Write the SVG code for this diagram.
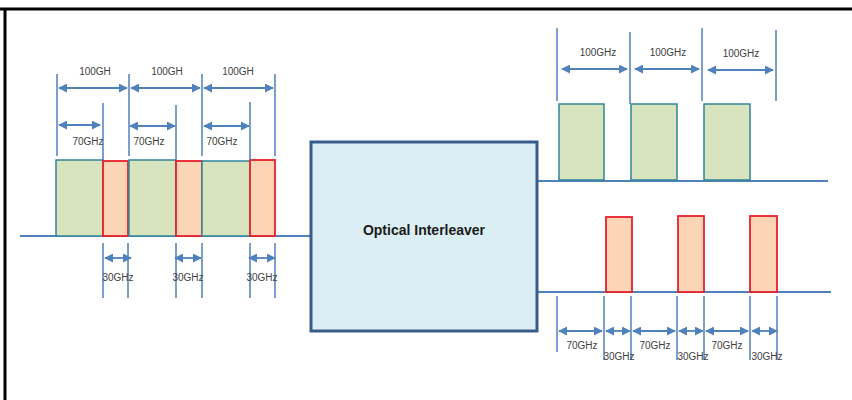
<svg xmlns="http://www.w3.org/2000/svg" width="852" height="400" viewBox="0 0 852 400">
<style>
.frame{stroke:#000;stroke-width:3;fill:none}
.base{stroke:#4F81BD;stroke-width:2;fill:none}
.dim{stroke:#4F81BD;stroke-width:1.5;fill:none}
.arr{stroke:#4F81BD;stroke-width:1.8;fill:none;marker-start:url(#ah);marker-end:url(#ah)}
.g{fill:#D7E4BD;stroke:#31859C;stroke-width:1.5}
.o{fill:#FBD5B5;stroke:#E8202A;stroke-width:1.8}
.box{fill:#DAEEF3;stroke:#385D8A;stroke-width:3}
.lbl{font-family:"Liberation Sans",Arial,sans-serif;font-size:10px;fill:#404040;text-anchor:middle;dominant-baseline:central}
.title{font-family:"Liberation Sans",Arial,sans-serif;font-size:14px;font-weight:bold;fill:#1a1a1a;text-anchor:middle;dominant-baseline:central}
</style>
<defs>
<marker id="ah" viewBox="0 0 10 10" refX="9" refY="5" markerWidth="5" markerHeight="5" orient="auto-start-reverse" markerUnits="strokeWidth">
<path d="M0,0 L10,5 L0,10 z" fill="#4F81BD"/>
</marker>
</defs>
<rect width="852" height="400" fill="#fff"/>
<line class="frame" x1="0" y1="9" x2="852" y2="9"/>
<line class="frame" x1="5" y1="9" x2="5" y2="400"/>

<g id="connectors">
<line class="base" x1="20" y1="236" x2="311" y2="236"/>
<line class="base" x1="537" y1="181" x2="828" y2="181"/>
<line class="base" x1="537" y1="292" x2="831" y2="292"/>
</g>

<g id="interleaver">
<rect class="box" x="311" y="142" width="226" height="189"/>
<text class="title" x="424" y="230">Optical Interleaver</text>
</g>

<g id="input-channels">
<rect class="g" x="56" y="160" width="47" height="76"/>
<rect class="o" x="103" y="161" width="25" height="75"/>
<rect class="g" x="129" y="160" width="47" height="76"/>
<rect class="o" x="176" y="161" width="26" height="75"/>
<rect class="g" x="202" y="161" width="48" height="75"/>
<rect class="o" x="250" y="160" width="25" height="76"/>
</g>

<g id="input-dimensions">
<line class="dim" x1="57" y1="74" x2="57" y2="156"/>
<line class="dim" x1="129" y1="74" x2="129" y2="156"/>
<line class="dim" x1="202" y1="74" x2="202" y2="156"/>
<line class="dim" x1="275" y1="74" x2="275" y2="156"/>
<line class="dim" x1="103" y1="103" x2="103" y2="160"/>
<line class="dim" x1="176" y1="105" x2="176" y2="160"/>
<line class="dim" x1="250" y1="102" x2="250" y2="160"/>
<line class="arr" x1="59" y1="88" x2="127" y2="88"/>
<line class="arr" x1="131" y1="88" x2="200" y2="88"/>
<line class="arr" x1="204" y1="88" x2="273" y2="88"/>
<text class="lbl" x="95" y="71">100GH</text>
<text class="lbl" x="167" y="71">100GH</text>
<text class="lbl" x="238" y="71">100GH</text>
<line class="arr" x1="59" y1="125" x2="100" y2="125"/>
<line class="arr" x1="130" y1="126" x2="175" y2="126"/>
<line class="arr" x1="204" y1="126" x2="249" y2="126"/>
<text class="lbl" x="88" y="141">70GHz</text>
<text class="lbl" x="149" y="141">70GHz</text>
<text class="lbl" x="222" y="141">70GHz</text>
<line class="dim" x1="103" y1="243" x2="103" y2="298"/>
<line class="dim" x1="128" y1="243" x2="128" y2="298"/>
<line class="dim" x1="176" y1="243" x2="176" y2="298"/>
<line class="dim" x1="202" y1="243" x2="202" y2="298"/>
<line class="dim" x1="250" y1="243" x2="250" y2="298"/>
<line class="dim" x1="275" y1="243" x2="275" y2="298"/>
<line class="arr" x1="105" y1="258" x2="131" y2="258"/>
<line class="arr" x1="175" y1="258" x2="201" y2="258"/>
<line class="arr" x1="249" y1="258" x2="275" y2="258"/>
<text class="lbl" x="118" y="277">30GHz</text>
<text class="lbl" x="188" y="277">30GHz</text>
<text class="lbl" x="262" y="277">30GHz</text>
</g>

<g id="output-upper">
<rect class="g" x="559" y="104" width="45" height="76"/>
<rect class="g" x="631" y="104" width="46" height="76"/>
<rect class="g" x="704" y="104" width="46" height="76"/>
<line class="dim" x1="557" y1="28" x2="557" y2="101"/>
<line class="dim" x1="630" y1="32" x2="630" y2="104"/>
<line class="dim" x1="702" y1="28" x2="702" y2="101"/>
<line class="dim" x1="776" y1="30" x2="776" y2="101"/>
<line class="arr" x1="562" y1="69" x2="627" y2="69"/>
<line class="arr" x1="635" y1="69" x2="699" y2="69"/>
<line class="arr" x1="708" y1="70" x2="773" y2="70"/>
<text class="lbl" x="598" y="52">100GHz</text>
<text class="lbl" x="668" y="52">100GHz</text>
<text class="lbl" x="741" y="53">100GHz</text>
</g>

<g id="output-lower">
<rect class="o" x="606" y="217" width="26" height="75"/>
<rect class="o" x="678" y="216" width="26" height="76"/>
<rect class="o" x="750" y="216" width="27" height="76"/>
<line class="dim" x1="557" y1="296" x2="557" y2="352"/>
<line class="dim" x1="604" y1="296" x2="604" y2="360"/>
<line class="dim" x1="631" y1="296" x2="631" y2="360"/>
<line class="dim" x1="677" y1="296" x2="677" y2="360"/>
<line class="dim" x1="704" y1="296" x2="704" y2="360"/>
<line class="dim" x1="750" y1="296" x2="750" y2="360"/>
<line class="dim" x1="777" y1="296" x2="777" y2="360"/>
<line class="arr" x1="559" y1="331" x2="602" y2="331"/>
<line class="arr" x1="606" y1="331" x2="630" y2="331"/>
<line class="arr" x1="633" y1="331" x2="675" y2="331"/>
<line class="arr" x1="679" y1="331" x2="703" y2="331"/>
<line class="arr" x1="706" y1="331" x2="748" y2="331"/>
<line class="arr" x1="752" y1="331" x2="777" y2="331"/>
<text class="lbl" x="582" y="345">70GHz</text>
<text class="lbl" x="655" y="345">70GHz</text>
<text class="lbl" x="727" y="345">70GHz</text>
<text class="lbl" x="619" y="356">30GHz</text>
<text class="lbl" x="693" y="356">30GHz</text>
<text class="lbl" x="767" y="356">30GHz</text>
</g>
</svg>
